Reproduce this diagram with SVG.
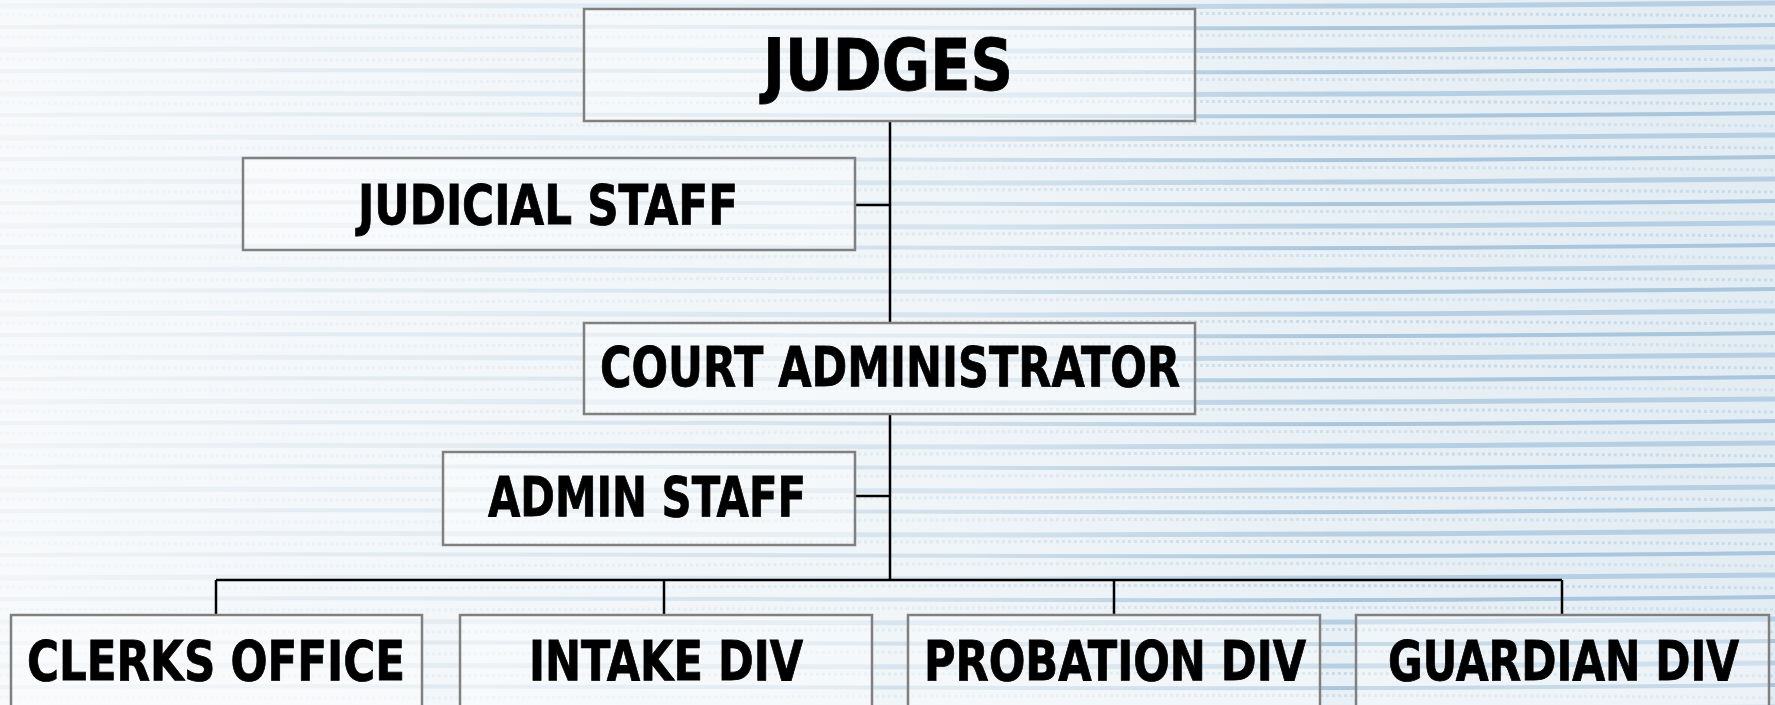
<svg xmlns="http://www.w3.org/2000/svg" width="1775" height="705" viewBox="0 0 1775 705">
  <defs>
    <linearGradient id="bg" x1="0" y1="0" x2="1" y2="0">
      <stop offset="0" stop-color="#f7f9fb"/>
      <stop offset="0.5" stop-color="#f0f5f8"/>
      <stop offset="1" stop-color="#e2ecf3"/>
    </linearGradient>
    <linearGradient id="fade" x1="0" y1="0" x2="1" y2="0">
      <stop offset="0" stop-color="#fff" stop-opacity="0.1"/>
      <stop offset="0.55" stop-color="#fff" stop-opacity="0.45"/>
      <stop offset="0.75" stop-color="#fff" stop-opacity="1"/>
      <stop offset="1" stop-color="#fff" stop-opacity="1"/>
    </linearGradient>
    <pattern id="stripes" width="1775" height="44" patternUnits="userSpaceOnUse">
      <path d="M0 6 C400 2 900 12 1775 3" stroke="#b7cfe2" stroke-width="5" fill="none"/>
      <path d="M0 15 C500 19 1000 9 1775 16" stroke="#c9dbe9" stroke-width="3" fill="none" stroke-dasharray="3 3"/>
      <path d="M0 27 C600 23 1100 33 1775 25" stroke="#aac6dc" stroke-width="4" fill="none"/>
      <path d="M0 37 C450 41 1200 31 1775 38" stroke="#d0e0ec" stroke-width="3" fill="none" stroke-dasharray="3 3"/>
    </pattern>
    <mask id="m">
      <rect width="1775" height="705" fill="url(#fade)"/>
    </mask>
  </defs>
  <style>
    .box { fill: #ffffff; fill-opacity: 0.35; stroke: #808080; stroke-width: 2.5; }
    .lbl { font-family: "DejaVu Sans Condensed", "Liberation Sans Narrow", "DejaVu Sans", sans-serif; font-weight: bold; fill: #000; stroke: #000; stroke-width: 0.8; text-anchor: start; }
    .conn { stroke: #000; stroke-width: 2.5; fill: none; }
  </style>
  <rect width="1775" height="705" fill="url(#bg)"/>
  <rect width="1775" height="705" fill="url(#stripes)" mask="url(#m)"/>

  <g id="connectors">
    <path class="conn" d="M890 121 V323"/>
    <path class="conn" d="M890 414 V580"/>
    <path class="conn" d="M855 205 H890"/>
    <path class="conn" d="M855 496 H890"/>
    <path class="conn" d="M216 580 H1562"/>
    <path class="conn" d="M216 580 V615"/>
    <path class="conn" d="M664 580 V615"/>
    <path class="conn" d="M1114 580 V615"/>
    <path class="conn" d="M1562 580 V615"/>
  </g>

  <g id="judges">
    <rect class="box" x="584" y="9" width="611" height="112"/>
    <text class="lbl" x="763" y="90" font-size="72" textLength="250" lengthAdjust="spacingAndGlyphs">JUDGES</text>
  </g>
  <g id="judicial-staff">
    <rect class="box" x="243" y="158" width="612" height="92"/>
    <text class="lbl" x="358" y="224" font-size="56" textLength="380" lengthAdjust="spacingAndGlyphs">JUDICIAL STAFF</text>
  </g>
  <g id="court-administrator">
    <rect class="box" x="584" y="323" width="611" height="91"/>
    <text class="lbl" x="600" y="386" font-size="56" textLength="580" lengthAdjust="spacingAndGlyphs">COURT ADMINISTRATOR</text>
  </g>
  <g id="admin-staff">
    <rect class="box" x="443" y="452" width="412" height="93"/>
    <text class="lbl" x="488" y="516" font-size="56" textLength="318" lengthAdjust="spacingAndGlyphs">ADMIN STAFF</text>
  </g>
  <g id="clerks-office">
    <rect class="box" x="11" y="615" width="411" height="100"/>
    <text class="lbl" x="27" y="680" font-size="56" textLength="378" lengthAdjust="spacingAndGlyphs">CLERKS OFFICE</text>
  </g>
  <g id="intake-div">
    <rect class="box" x="460" y="615" width="412" height="100"/>
    <text class="lbl" x="529" y="680" font-size="56" textLength="274" lengthAdjust="spacingAndGlyphs">INTAKE DIV</text>
  </g>
  <g id="probation-div">
    <rect class="box" x="908" y="615" width="412" height="100"/>
    <text class="lbl" x="924" y="680" font-size="56" textLength="382" lengthAdjust="spacingAndGlyphs">PROBATION DIV</text>
  </g>
  <g id="guardian-div">
    <rect class="box" x="1356" y="615" width="413" height="100"/>
    <text class="lbl" x="1388" y="680" font-size="56" textLength="351" lengthAdjust="spacingAndGlyphs">GUARDIAN DIV</text>
  </g>
</svg>
